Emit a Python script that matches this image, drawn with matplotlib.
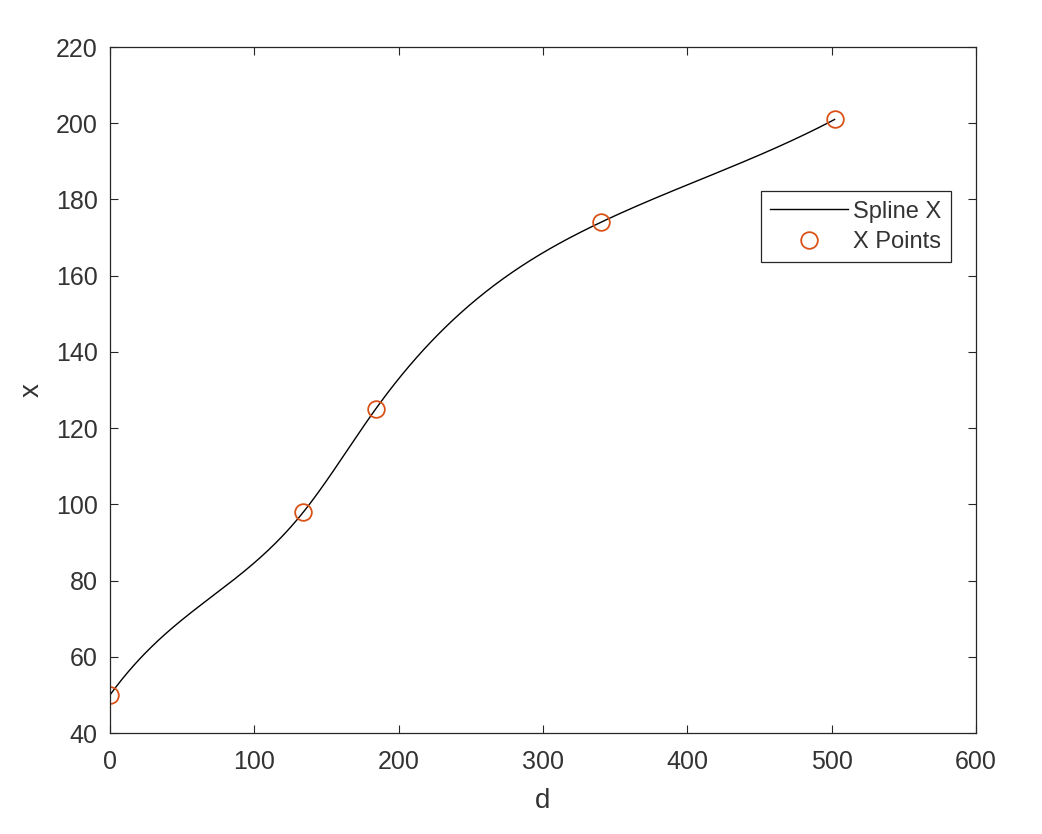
import numpy as np
import matplotlib
matplotlib.use("Agg")
import matplotlib.pyplot as plt

# knot points
d_pts = [0, 134, 184, 340, 502]
x_pts = [50, 98, 125, 174, 201]
# end slopes of the clamped spline
end_slopes = [0.52, 0.20]


def clamped_spline(xk, yk, s0, s1, xq):
    # piecewise cubic with first derivative fixed at both ends
    xk = np.asarray(xk, float)
    yk = np.asarray(yk, float)
    n = len(xk) - 1
    A = np.zeros((4 * n, 4 * n))
    b = np.zeros(4 * n)
    r = 0
    for i in range(n):
        h = xk[i + 1] - xk[i]
        # s_i(t) = a + b t + c t^2 + e t^3, t = x - xk[i]
        A[r, 4 * i] = 1; b[r] = yk[i]; r += 1
        A[r, 4 * i:4 * i + 4] = [1, h, h**2, h**3]; b[r] = yk[i + 1]; r += 1
    for i in range(n - 1):
        h = xk[i + 1] - xk[i]
        A[r, 4 * i:4 * i + 4] = [0, 1, 2 * h, 3 * h**2]
        A[r, 4 * (i + 1) + 1] = -1; r += 1
        A[r, 4 * i:4 * i + 4] = [0, 0, 2, 6 * h]
        A[r, 4 * (i + 1) + 2] = -2; r += 1
    A[r, 1] = 1; b[r] = s0; r += 1
    h = xk[-1] - xk[-2]
    A[r, 4 * (n - 1):4 * n] = [0, 1, 2 * h, 3 * h**2]; b[r] = s1; r += 1
    coef = np.linalg.solve(A, b).reshape(n, 4)
    idx = np.clip(np.searchsorted(xk, xq, side="right") - 1, 0, n - 1)
    t = xq - xk[idx]
    c = coef[idx]
    return c[:, 0] + c[:, 1] * t + c[:, 2] * t**2 + c[:, 3] * t**3


dd = np.linspace(d_pts[0], d_pts[-1], 500)
xx = clamped_spline(d_pts, x_pts, end_slopes[0], end_slopes[1], dd)

plt.rcParams['font.family'] = ['Liberation Sans', 'DejaVu Sans']
gray = '#333333'

fig = plt.figure(figsize=(10.42, 8.34), dpi=100)
ax = fig.add_axes([0.1056, 0.1211, 0.8311, 0.8225])

ax.plot(dd, xx, color='black', lw=1.0, label='Spline X')
ax.plot(d_pts, x_pts, 'o', mfc='none', mec='#D95319', mew=1.3, ms=12, label='X Points')

ax.set_xlim(0, 600)
ax.set_ylim(40, 220)
ax.set_xticks(range(0, 601, 100))
ax.set_yticks(range(40, 221, 20))
ax.tick_params(direction='in', top=True, right=True, length=6, width=0.8,
               colors='#262626', labelcolor=gray, labelsize=18)
ax.tick_params(axis='x', pad=12)
ax.tick_params(axis='y', pad=9)
for s in ax.spines.values():
    s.set_color('#262626')
    s.set_linewidth(0.9)

ax.set_xlabel('d', fontsize=20, color=gray, labelpad=10)
ax.set_ylabel('x', fontsize=20, color=gray, labelpad=8)

leg = ax.legend(loc='upper right', bbox_to_anchor=(0.971, 0.790), fontsize=17,
                fancybox=False, edgecolor='#262626', framealpha=1, borderaxespad=0,
                handlelength=3.3, handletextpad=0.22, borderpad=0.4, labelspacing=0.35)
leg.get_frame().set_linewidth(0.9)
for t in leg.get_texts():
    t.set_color(gray)

fig.savefig('out.png', dpi=100)
